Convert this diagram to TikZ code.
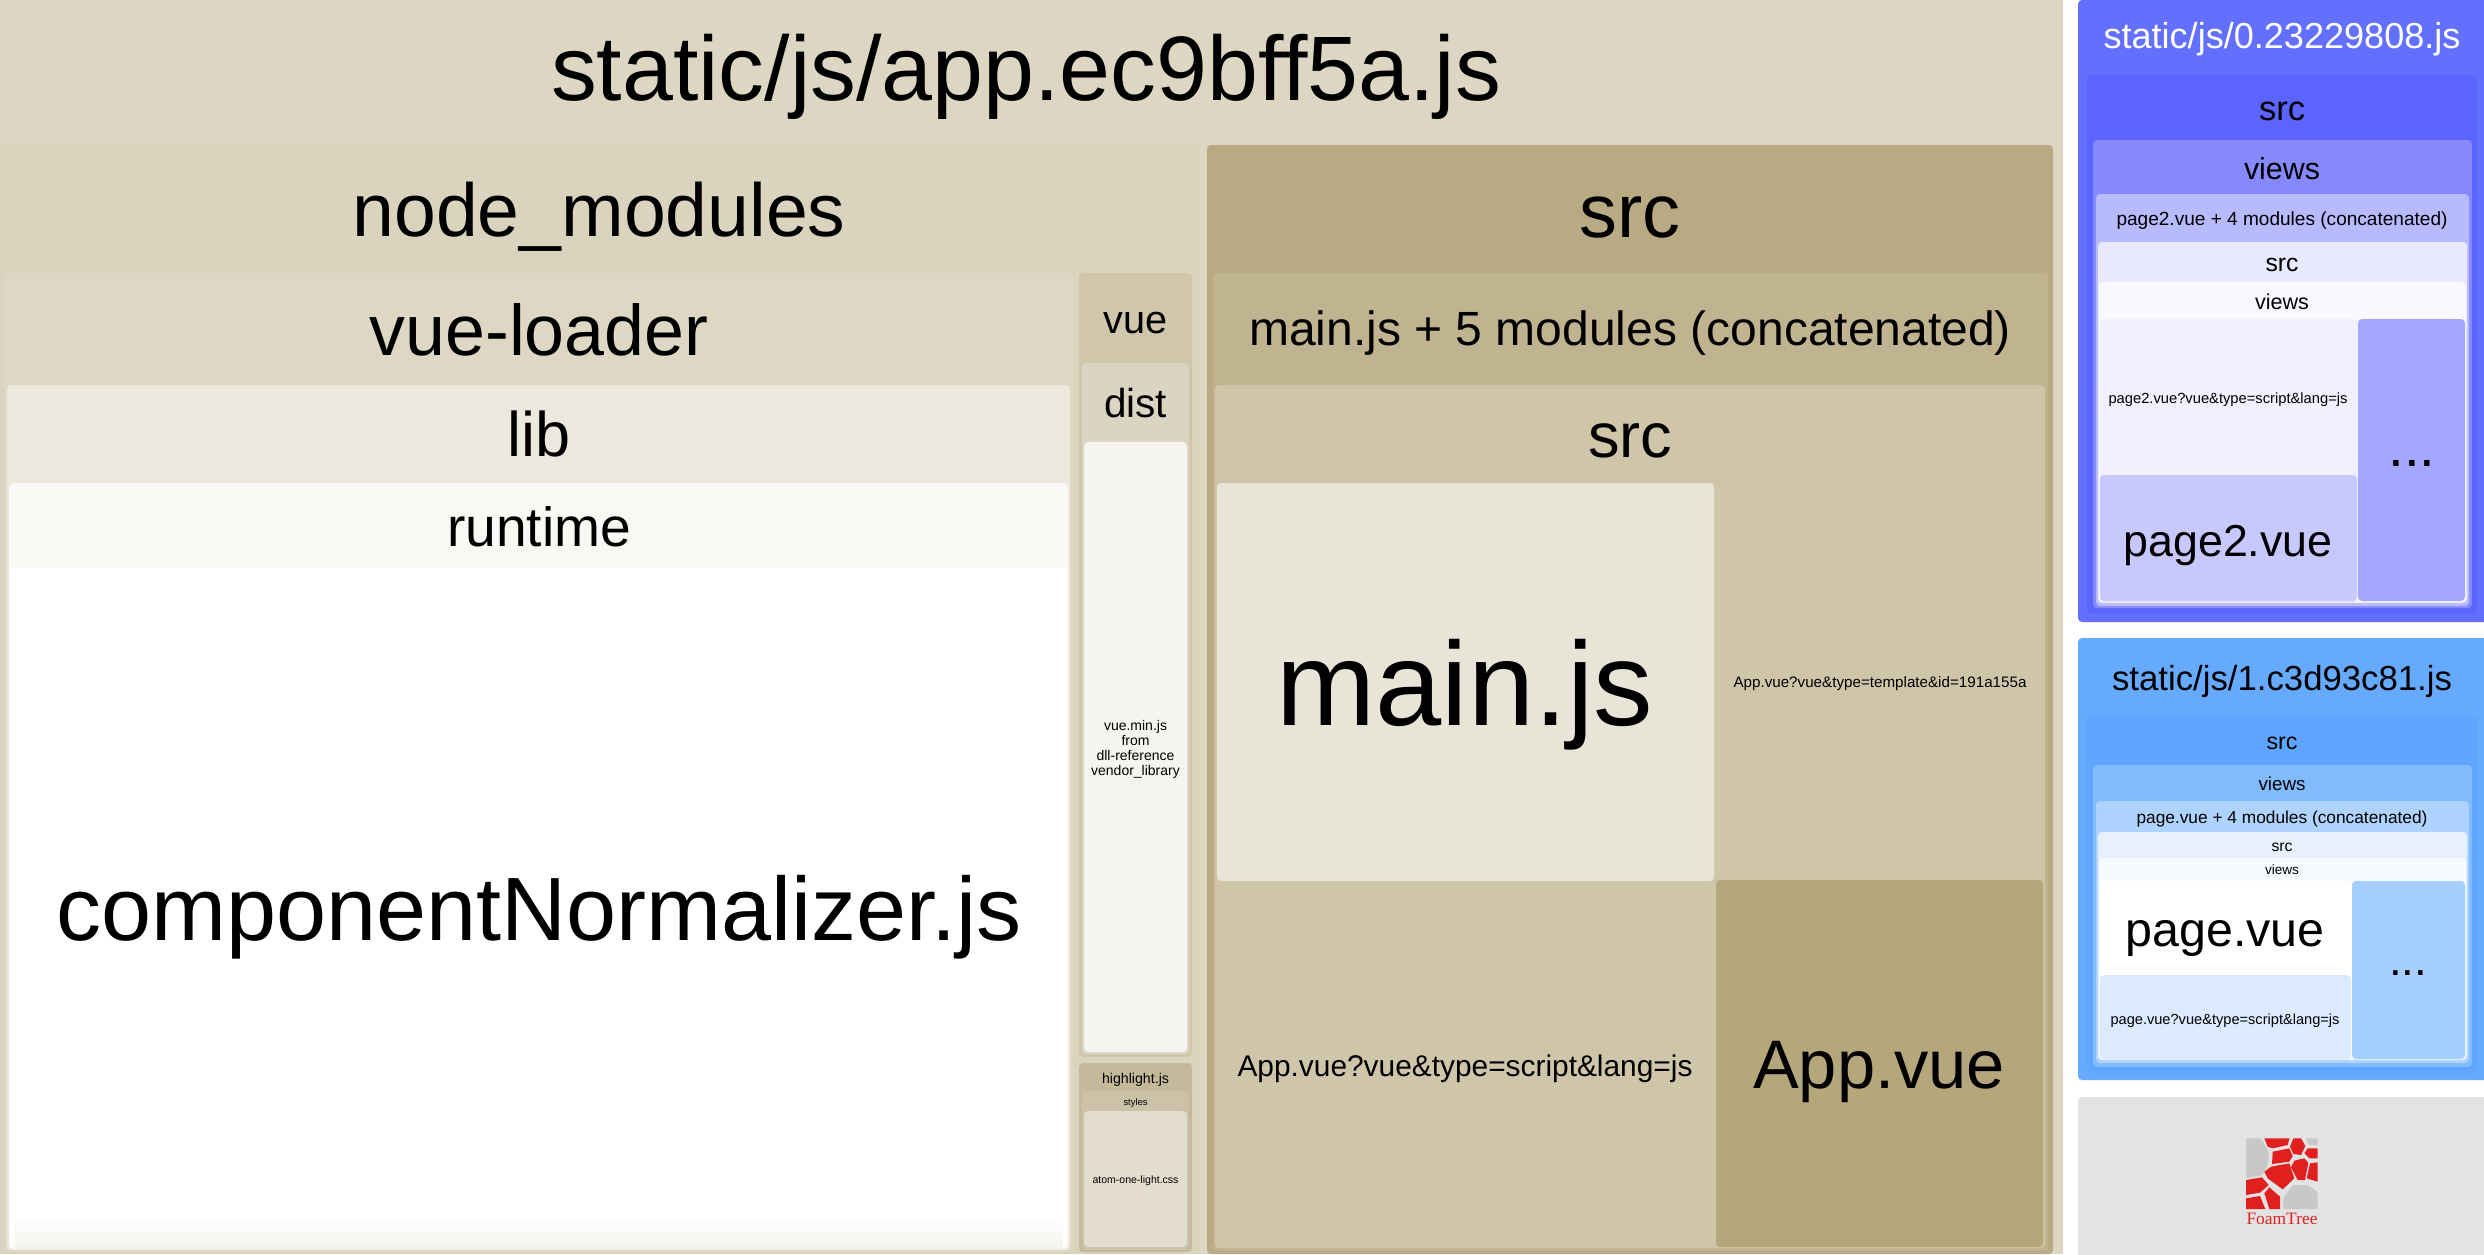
\documentclass[tikz,border=0pt]{standalone}
\usepackage{fontspec}
\setmainfont{Liberation Sans}
\newfontfamily\foamfont{Liberation Serif}
\newcommand\fitlabel[2]{\setbox0=\hbox{\fontsize{100}{120}\selectfont #2}\pgfmathsetmacro\fitsize{#1/\the\wd0*100}\fontsize{\fitsize}{\fitsize}\selectfont #2}
\newcommand\cellbox[5]{\fill[cellshape,fill=#5] (#1,#2) rectangle (#3,#4);}
\newcommand\lab[5][black]{\node[lbl,text=#1] (#2) at (#3) {\fitlabel{#4}{#5}};}
\definecolor{appbg}{HTML}{DCD6C2}
\definecolor{nmbg}{HTML}{DAD4BE}
\definecolor{vlbg}{HTML}{DDD7C3}
\definecolor{libbg}{HTML}{ECE8DD}
\definecolor{rtbg}{HTML}{F9F8F4}
\definecolor{glow}{HTML}{F4F3EE}
\definecolor{vuebg}{HTML}{CFC6AB}
\definecolor{distbg}{HTML}{DAD4C2}
\definecolor{minbg}{HTML}{F5F4EF}
\definecolor{hlbg}{HTML}{C4B99A}
\definecolor{stybg}{HTML}{CBC2A7}
\definecolor{atombg}{HTML}{E2DDCE}
\definecolor{srcbg}{HTML}{B8AA83}
\definecolor{mainbg}{HTML}{BFB390}
\definecolor{srcibg}{HTML}{CFC6AA}
\definecolor{mjsbg}{HTML}{E8E4D8}
\definecolor{avbg}{HTML}{B5A77C}
\definecolor{pa}{HTML}{6370FD}
\definecolor{pb}{HTML}{5C64FE}
\definecolor{pc}{HTML}{8589FD}
\definecolor{pd}{HTML}{B8BAFE}
\definecolor{pe}{HTML}{E9E9FD}
\definecolor{pf}{HTML}{F8F8FE}
\definecolor{pg}{HTML}{F0F0FE}
\definecolor{ph}{HTML}{C7C8FD}
\definecolor{pi}{HTML}{A5A6FD}
\definecolor{ba}{HTML}{66AAFE}
\definecolor{bb}{HTML}{5DA5FE}
\definecolor{bc}{HTML}{80BBFE}
\definecolor{bd}{HTML}{AED3FE}
\definecolor{be}{HTML}{E7F1FE}
\definecolor{bf}{HTML}{F7FBFF}
\definecolor{bg}{HTML}{DBEAFE}
\definecolor{bh}{HTML}{A5CFFE}
\definecolor{ftbg}{HTML}{E3E3E3}
\definecolor{ftgray}{HTML}{C8C8C8}
\definecolor{ftred}{HTML}{E01F1F}
\tikzset{
  cellshape/.style={rounded corners=4pt},
  lbl/.style={inner sep=0pt,outer sep=0pt,align=center},
  foamcell/.style={fill=ftred,line join=round},
  foamgray/.style={fill=ftgray,line join=round}
}
\begin{document}
\begin{tikzpicture}[x=1pt,y=-1pt]
\useasboundingbox (0,0) rectangle (2484,1254);
\fill[white] (0,0) rectangle (2484,1254);
% app chunk
\fill[appbg] (0,0) rectangle (2063,1254);
\cellbox{0}{145}{1200}{1254}{nmbg}
\cellbox{5}{273}{1073}{1252}{vlbg}
\cellbox{7}{385}{1070}{1250}{libbg}
\cellbox{9}{483}{1068}{1249}{rtbg}
\cellbox{10}{568}{1067}{1248}{white}
\shade[top color=white,bottom color=glow] (14,1215) rectangle (1063,1248);
\cellbox{1079}{273}{1192}{1057}{vuebg}
\cellbox{1082}{363}{1189}{1054}{distbg}
\cellbox{1084}{442}{1187}{1052}{minbg}
\cellbox{1079}{1063}{1192}{1252}{hlbg}
\cellbox{1082}{1091}{1189}{1250}{stybg}
\cellbox{1084}{1111}{1187}{1247}{atombg}
\cellbox{1207}{145}{2053}{1254}{srcbg}
\cellbox{1213}{273}{2048}{1251}{mainbg}
\cellbox{1215}{385}{2045}{1248}{srcibg}
\cellbox{1217}{483}{1714}{881}{mjsbg}
\cellbox{1716}{880}{2043}{1247}{avbg}
\lab{tApp}{1026,77}{950}{static/js/app.ec9bff5a.js}
\lab{tNm}{599,217}{493}{node\_modules}
\lab{tSrc}{1630,217}{101}{src}
\lab{tVl}{539,330}{339}{vue-loader}
\lab{tLib}{539,434}{63}{lib}
\lab{tRt}{539,527}{184}{runtime}
\lab{tCn}{539,917}{965}{componentNormalizer.js}
\lab{tVue}{1135.5,323}{64}{vue}
\lab{tDist}{1135.5,403}{63}{dist}
\node[lbl,font=\fontsize{14}{15}\selectfont] (tMin) at (1135.5,749) {vue.min.js\\from\\dll-reference\\vendor\_library};
\lab{tHl}{1135.5,1080}{67}{highlight.js}
\lab{tSty}{1135.5,1103}{24}{styles}
\lab{tAtom}{1135.5,1181}{86}{atom-one-light.css}
\lab{tMainC}{1630,333}{762}{main.js + 5 modules (concatenated)}
\lab{tSrcI}{1630,441}{84}{src}
\lab{tMain}{1465,695}{377}{main.js}
\lab{tTpl}{1880,684}{293}{App.vue?vue\&type=template\&id=191a155a}
\lab{tScr}{1465,1069}{455}{App.vue?vue\&type=script\&lang=js}
\lab{tAv}{1879,1072}{252}{App.vue}
% chunk 0
\fill[pa,cellshape] (2078,0) rectangle (2490,622);
\cellbox{2087}{75}{2477}{614}{pb}
\cellbox{2093}{140}{2472}{608}{pc}
\cellbox{2096}{194}{2469}{606}{pd}
\cellbox{2098}{242}{2467}{603}{pe}
\cellbox{2099}{282}{2466}{602}{pf}
\cellbox{2100}{319}{2358}{602}{pg}
\cellbox{2100}{475}{2357}{601}{ph}
\cellbox{2358}{319}{2465}{601}{pi}
\lab[white]{a0}{2282,39}{357}{static/js/0.23229808.js}
\lab{a1}{2282,111}{46}{src}
\lab{a2}{2282,169}{76}{views}
\lab{a3}{2282,221}{331}{page2.vue + 4 modules (concatenated)}
\lab{a4}{2282,265}{33}{src}
\lab{a5}{2282,302}{54}{views}
\lab{a6}{2228,400}{239}{page2.vue?vue\&type=script\&lang=js}
\lab{a7}{2228,546}{209}{page2.vue}
\lab{a8}{2412,463}{47}{...}
% chunk 1
\fill[ba,cellshape] (2078,638) rectangle (2490,1080);
\cellbox{2087}{717}{2477}{1073}{bb}
\cellbox{2093}{765}{2472}{1067}{bc}
\cellbox{2096}{801}{2469}{1063}{bd}
\cellbox{2098}{832}{2467}{1060}{be}
\cellbox{2099}{858}{2466}{1059}{bf}
\cellbox{2100}{881}{2352}{1059}{white}
\cellbox{2100}{975}{2351}{1059}{bg}
\cellbox{2352}{881}{2465}{1059}{bh}
\lab{b0}{2282,682}{340}{static/js/1.c3d93c81.js}
\lab{b1}{2282,743}{31}{src}
\lab{b2}{2282,784}{47}{views}
\lab{b3}{2282,819}{291}{page.vue + 4 modules (concatenated)}
\lab{b4}{2282,847}{21}{src}
\lab{b5}{2282,870}{34}{views}
\lab{b6}{2225,938}{199}{page.vue}
\lab{b7}{2225,1021}{229}{page.vue?vue\&type=script\&lang=js}
\lab{b8}{2408,973}{38}{...}
% foamtree
\fill[ftbg,cellshape] (2078,1097) rectangle (2490,1260);
\begin{scope}[shift={(2236,1130)},x=0.3333pt,y=-0.3333pt]
\fill[foamgray,rounded corners=2pt] (30,145)--(30,25)--(75,25)--(100,70)--(95,105)--(80,135)--cycle;
\fill[foamgray] (210,25)--(245,25)--(245,45)--(218,45)--cycle;
\fill[foamgray,rounded corners=2pt] (140,237)--(142,205)--(170,165)--(215,165)--(245,185)--(245,237)--cycle;
\fill[foamcell] (85,25)--(160,25)--(155,45)--(110,55)--(95,50)--cycle;
\fill[foamcell] (172,25)--(195,25)--(208,48)--(195,75)--(172,72)--(162,50)--cycle;
\fill[foamcell] (215,55)--(245,55)--(245,85)--(220,85)--(205,70)--cycle;
\fill[foamcell] (110,65)--(160,55)--(170,78)--(160,95)--(108,102)--cycle;
\fill[foamcell] (175,92)--(205,85)--(217,98)--(207,150)--(185,150)--(165,112)--cycle;
\fill[foamcell] (222,100)--(245,97)--(245,155)--(212,145)--cycle;
\fill[foamcell] (105,110)--(160,100)--(175,145)--(140,178)--(95,145)--(85,125)--cycle;
\fill[foamcell] (30,150)--(78,142)--(98,165)--(72,188)--(30,195)--cycle;
\fill[foamcell] (30,205)--(72,198)--(88,237)--(30,237)--cycle;
\fill[foamcell] (85,190)--(100,172)--(132,200)--(132,237)--(100,237)--cycle;
\end{scope}
\node[lbl,text=ftred] (ft) at (2282,1219) {\foamfont\fitlabel{71}{FoamTree}};
\end{tikzpicture}
\end{document}
